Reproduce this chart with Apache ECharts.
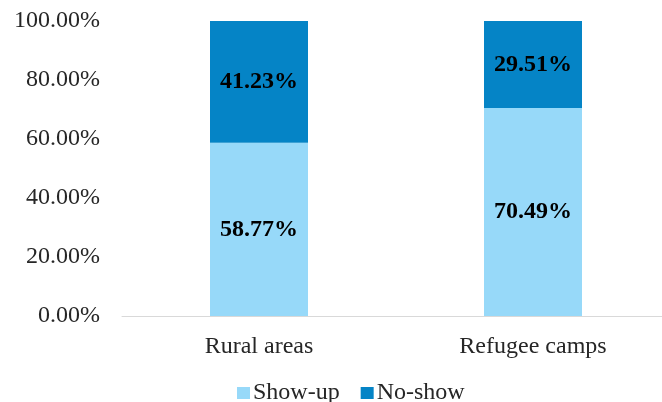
<!DOCTYPE html>
<html>
<head>
<meta charset="utf-8">
<script src="https://cdn.jsdelivr.net/npm/echarts@6/dist/echarts.min.js"></script>
<style>
  html, body { margin: 0; padding: 0; background: #fff; overflow: hidden; }
  #wrap { width: 662px; height: 402px; overflow: hidden; }
  #chart { width: 694px; height: 402px; }
</style>
</head>
<body>
<div id="wrap"><div id="chart"></div></div>
<script>
// Share of participants who showed up vs. did not, by setting
const categories = ['Rural areas', 'Refugee camps'];
const showUp = [58.77, 70.49];
const noShow = [41.23, 29.51];
const yTicks = [0, 20, 40, 60, 80, 100];

const FONT = '"Liberation Serif", "Times New Roman", serif';
const TEXT = '#262626';

const chart = echarts.init(document.getElementById('chart'));
chart.setOption({
  animation: false,
  backgroundColor: '#ffffff',
  textStyle: { fontFamily: FONT },
  grid: { left: 122, top: 21, width: 548, height: 295, containLabel: false },
  legend: {
    top: 376,
    left: 232,
    padding: 5,
    itemWidth: 13,
    itemHeight: 12,
    itemGap: 21,
    icon: 'rect',
    textStyle: { fontFamily: FONT, fontSize: 24, color: TEXT, padding: [0, 0, 0, -2] },
    data: ['Show-up', 'No-show']
  },
  xAxis: {
    type: 'category',
    data: categories,
    axisLine: { lineStyle: { color: '#d9d9d9', width: 1 } },
    axisTick: { show: false },
    axisLabel: { fontFamily: FONT, fontSize: 24, color: TEXT, margin: 19 }
  },
  yAxis: {
    type: 'value',
    min: yTicks[0],
    max: yTicks[yTicks.length - 1],
    interval: 20,
    axisLine: { show: false },
    axisTick: { show: false },
    splitLine: { show: false },
    axisLabel: {
      fontFamily: FONT, fontSize: 24, color: TEXT, margin: 22,
      formatter: v => v.toFixed(2) + '%'
    }
  },
  series: [
    {
      name: 'Show-up',
      type: 'bar',
      stack: 'total',
      barWidth: 98,
      data: showUp,
      itemStyle: { color: '#97d9f9' },
      label: {
        show: true, position: 'inside',
        fontFamily: FONT, fontSize: 24, fontWeight: 'bold', color: '#000',
        formatter: p => p.value.toFixed(2) + '%'
      }
    },
    {
      name: 'No-show',
      type: 'bar',
      stack: 'total',
      barWidth: 98,
      data: noShow,
      itemStyle: { color: '#0584c6' },
      label: {
        show: true, position: 'inside',
        fontFamily: FONT, fontSize: 24, fontWeight: 'bold', color: '#000',
        formatter: p => p.value.toFixed(2) + '%'
      }
    }
  ]
});
</script>
</body>
</html>
